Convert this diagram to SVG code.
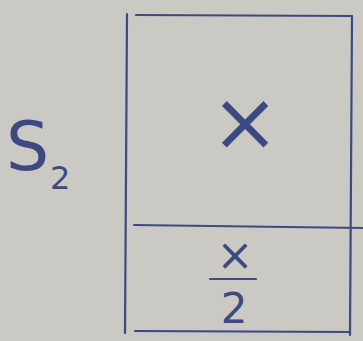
<svg xmlns="http://www.w3.org/2000/svg" width="363" height="341" viewBox="0 0 363 341">
<style>
.ln{stroke:#3d4a82;stroke-width:2.2;fill:none;stroke-linecap:round}
.t{fill:#3d4a82;font-family:"DejaVu Sans","Liberation Sans",sans-serif}
</style>
<rect width="363" height="341" fill="#cbc9c4"/>
<g id="connectors">
<path class="ln" d="M127,14 L125,333"/>
<path class="ln" d="M136,15 L352,16"/>
<path class="ln" d="M352,16 L350,335"/>
<path class="ln" d="M134,225 L363,228"/>
<path class="ln" d="M135,331 L350,332"/>
<path class="ln" d="M210,279 L256,279"/>
</g>
<g id="label-s2">
<text class="t" x="6" y="170" font-size="68">S</text>
<text class="t" x="50" y="189" font-size="32">2</text>
</g>
<g id="node-x">
<text class="t" x="245" y="150" font-size="82" text-anchor="middle">×</text>
</g>
<g id="node-x2">
<text class="t" x="235" y="270" font-size="44" text-anchor="middle">×</text>
<text class="t" x="234" y="323" font-size="42" text-anchor="middle">2</text>
</g>
</svg>
